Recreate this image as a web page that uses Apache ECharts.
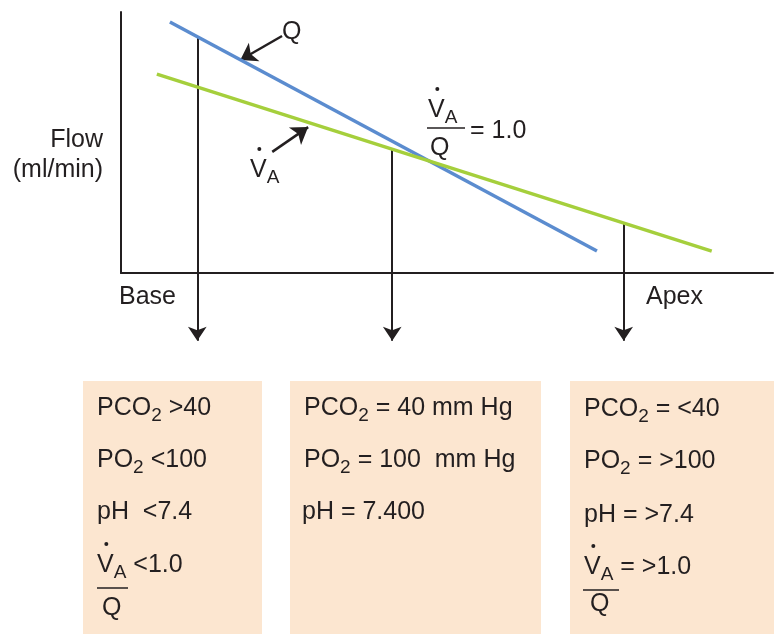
<!DOCTYPE html>
<html>
<head>
<meta charset="utf-8">
<script src="https://cdn.jsdelivr.net/npm/echarts@6/dist/echarts.min.js"></script>
<style>
  html, body { margin: 0; padding: 0; background: #fff; }
  #main { width: 774px; height: 634px; }
</style>
</head>
<body>
<div id="main"></div>
<script>
// flow vs. position in the lung (0 = base, 100 = apex), arbitrary units
var qLine = [[7.5, 96.2], [73.0, 8.4]];    // blood flow Q
var vaLine = [[5.5, 76.2], [90.6, 8.4]];   // alveolar ventilation VA
var sampleX = [11.7, 41.6, 77.1];          // base, middle, apex
var sampleTop = [90.6, 47.4, 19.2];        // where the sampling arrow leaves the curve
var sampleBottom = -26;
var qPointer = [[24.7, 90.8], [18.3, 81.6]];
var vaPointer = [[23.2, 46.4], [28.7, 55.9]];

var axisNames = ['Base', 'Apex'];
var yName = ['Flow', '(ml/min)'];

var FONT = '"Liberation Sans", Arial, sans-serif';
var INK = '#231f20';
var SZ = 25, SUB = 19;

var ctx = document.createElement('canvas').getContext('2d');
function measure(t, s) {
	ctx.font = s + 'px ' + FONT;
	return ctx.measureText(t).width;
}

// one line of text made of normal / subscript pieces
function row(x, y, parts) {
	var els = [];
	var cx = x;
	parts.forEach(function(p) {
		var s = p.sub ? SUB : SZ;
		var w = measure(p.t, s);
		els.push({
			type: 'text',
			style: {
				text: p.t, x: cx, y: y + (p.sub ? 8 : 0),
				font: s + 'px ' + FONT, fill: INK,
				align: 'left', verticalAlign: 'middle'
			}
		});
		if (p.dot) {
			els.push({ type: 'circle', shape: { cx: cx + w / 2 + 1, cy: y - 21, r: 2 }, style: { fill: INK } });
		}
		cx += w + (p.gap || 0);
	});
	return els;
}
function P(t, dot) { return { t: t, dot: !!dot }; }
function S(t) { return { t: t, sub: true }; }
function bar(x1, x2, y) {
	return { type: 'line', shape: { x1: x1, y1: y, x2: x2, y2: y }, style: { stroke: INK, lineWidth: 1.5 } };
}

var graphics = [
	{ type: 'rect', shape: { x: 83, y: 381, width: 179, height: 253 }, style: { fill: '#fce6d0' } },
	{ type: 'rect', shape: { x: 290, y: 381, width: 251, height: 253 }, style: { fill: '#fce6d0' } },
	{ type: 'rect', shape: { x: 570, y: 381, width: 204, height: 253 }, style: { fill: '#fce6d0' } },
	{ type: 'text', style: { text: yName[0], x: 103, y: 140, font: SZ + 'px ' + FONT, fill: INK, align: 'right', verticalAlign: 'middle' } },
	{ type: 'text', style: { text: yName[1], x: 103, y: 170, font: SZ + 'px ' + FONT, fill: INK, align: 'right', verticalAlign: 'middle' } },
	{ type: 'text', style: { text: axisNames[0], x: 119, y: 297, font: SZ + 'px ' + FONT, fill: INK, verticalAlign: 'middle' } },
	{ type: 'text', style: { text: axisNames[1], x: 646, y: 297, font: SZ + 'px ' + FONT, fill: INK, verticalAlign: 'middle' } },
	bar(427, 465, 128),
	bar(97, 128, 588),
	bar(583, 619, 590)
];
graphics = graphics
	.concat(row(282, 32, [P('Q')]))
	.concat(row(250, 170, [P('V', true), S('A')]))
	.concat(row(428, 110, [P('V', true), S('A')]))
	.concat(row(430, 148, [P('Q')]))
	.concat(row(470, 131, [P('= 1.0')]))
	// base box
	.concat(row(97, 408, [P('PCO'), S('2'), P(' >40')]))
	.concat(row(97, 460, [P('PO'), S('2'), P(' <100')]))
	.concat(row(97, 512, [P('pH  <7.4')]))
	.concat(row(97, 565, [P('V', true), S('A'), P(' <1.0')]))
	.concat(row(102, 608, [P('Q')]))
	// middle box
	.concat(row(304, 408, [P('PCO'), S('2'), P(' = 40 mm Hg')]))
	.concat(row(304, 460, [P('PO'), S('2'), P(' = 100  mm Hg')]))
	.concat(row(302, 512, [P('pH = 7.400')]))
	// apex box
	.concat(row(584, 409, [P('PCO'), S('2'), P(' = <40')]))
	.concat(row(584, 461, [P('PO'), S('2'), P(' = >100')]))
	.concat(row(584, 515, [P('pH = >7.4')]))
	.concat(row(584, 567, [P('V', true), S('A'), P(' = >1.0')]))
	.concat(row(590, 604, [P('Q')]));

var arrows = sampleX.map(function(x, i) {
	return { coords: [[x, sampleTop[i]], [x, sampleBottom]] };
});

var option = {
	animation: false,
	grid: { left: 121, top: 12, width: 652, height: 261 },
	xAxis: {
		type: 'value', min: 0, max: 100,
		axisLine: { lineStyle: { color: INK, width: 2 } },
		axisTick: { show: false }, axisLabel: { show: false }, splitLine: { show: false }
	},
	yAxis: {
		type: 'value', min: 0, max: 100,
		axisLine: { show: true, lineStyle: { color: INK, width: 2 } },
		axisTick: { show: false }, axisLabel: { show: false }, splitLine: { show: false }
	},
	series: [
		{
			name: 'Q', type: 'line', data: qLine, symbol: 'none', clip: false,
			lineStyle: { color: '#5b8ccf', width: 3.5 }
		},
		{
			name: 'VA', type: 'line', data: vaLine, symbol: 'none', clip: false,
			lineStyle: { color: '#a5cf3c', width: 3.5 }
		},
		{
			type: 'lines', coordinateSystem: 'cartesian2d', clip: false,
			symbol: ['none', 'arrow'], symbolSize: [8, 14],
			lineStyle: { color: INK, width: 2, opacity: 1 },
			data: arrows
		},
		{
			type: 'lines', coordinateSystem: 'cartesian2d', clip: false,
			symbol: ['none', 'arrow'], symbolSize: [10, 16],
			lineStyle: { color: INK, width: 2.5, opacity: 1 },
			data: [{ coords: qPointer }, { coords: vaPointer }]
		}
	],
	graphic: graphics
};

var chart = echarts.init(document.getElementById('main'));
chart.setOption(option);
</script>
</body>
</html>
